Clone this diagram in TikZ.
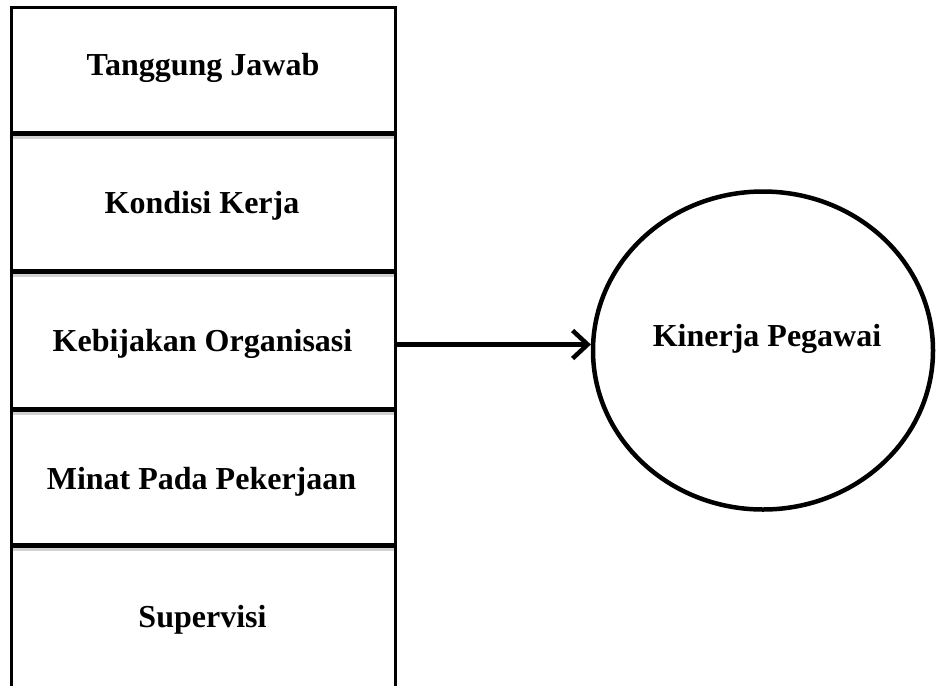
\documentclass[tikz,border=0pt]{standalone}
\usepackage{fontspec}
\setmainfont{Liberation Serif}
\usetikzlibrary{shapes.geometric,arrows.meta,calc}
\begin{document}
\begin{tikzpicture}[x=1pt,y=-1pt,
  cell/.style={rectangle,minimum width=384pt,inner sep=0pt,outer sep=0pt},
  divider/.style={line width=5pt},
  frame/.style={line width=3pt},
  shadowline/.style={line width=4pt,draw=black!18},
  bubble/.style={ellipse,draw,line width=4.5pt,minimum width=340pt,minimum height=318pt,inner sep=0pt},
  txt/.style={font=\fontsize{32}{38}\selectfont\bfseries},
  link/.style={line width=4.5pt,-{Straight Barb[length=15pt,width=28pt,line width=4.5pt]}}]
\useasboundingbox (0,0) rectangle (936,686);
% cells
\node[cell,minimum height=126pt] (c1) at (203,70) {};
\node[cell,minimum height=138pt] (c2) at (203,202) {};
\node[cell,minimum height=138pt] (c3) at (203,340) {};
\node[cell,minimum height=136pt] (c4) at (203,477) {};
\node[cell,minimum height=141pt] (c5) at (203,615.5) {};
\node[txt] (t1) at (203,68) {Tanggung Jawab};
\node[txt] (t2) at (202,206) {Kondisi Kerja};
\node[txt] (t3) at (202.5,344) {Kebijakan Organisasi};
\node[txt] (t4) at (201.5,482) {Minat Pada Pekerjaan};
\node[txt] (t5) at (202.5,620) {Supervisi};
% shadows of dividers
\draw[shadowline] ($(c1.south west)+(0,4)$) -- ($(c1.south east)+(0,4)$);
\draw[shadowline] ($(c2.south west)+(0,4)$) -- ($(c2.south east)+(0,4)$);
\draw[shadowline] ($(c3.south west)+(0,4)$) -- ($(c3.south east)+(0,4)$);
\draw[shadowline] ($(c4.south west)+(0,4)$) -- ($(c4.south east)+(0,4)$);
% frame
\draw[frame] (c5.south west) -- (c1.north west) -- (c1.north east) -- (c5.south east);
% dividers
\draw[divider] (c1.south west) -- (c1.south east);
\draw[divider] (c2.south west) -- (c2.south east);
\draw[divider] (c3.south west) -- (c3.south east);
\draw[divider] (c4.south west) -- (c4.south east);
% ellipse
\node[bubble] (kp) at (763,350.5) {};
\node[txt] (kpt) at (767,339) {Kinerja Pegawai};
% arrow
\draw[link] (c3.east |- kp.178) -- (kp.178);
\end{tikzpicture}
\end{document}
